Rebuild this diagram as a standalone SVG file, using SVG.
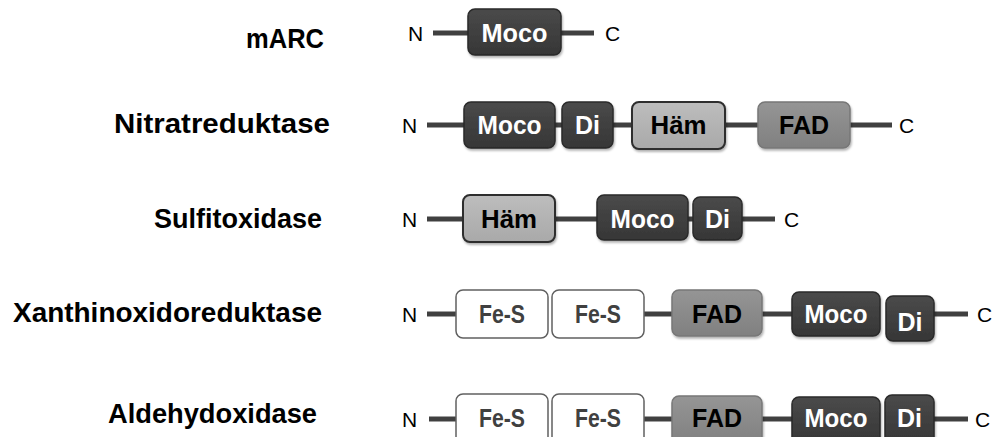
<svg xmlns="http://www.w3.org/2000/svg" width="1000" height="437" viewBox="0 0 1000 437">
<defs>
<linearGradient id="gDark" x1="0" y1="0" x2="0" y2="1">
<stop offset="0" stop-color="#4a4a4a"/><stop offset="1" stop-color="#363636"/>
</linearGradient>
<linearGradient id="gHam" x1="0" y1="0" x2="0" y2="1">
<stop offset="0" stop-color="#bdbdbd"/><stop offset="1" stop-color="#a9a9a9"/>
</linearGradient>
<linearGradient id="gFad" x1="0" y1="0" x2="0" y2="1">
<stop offset="0" stop-color="#959595"/><stop offset="1" stop-color="#808080"/>
</linearGradient>
<filter id="sh" x="-10%" y="-10%" width="130%" height="140%">
<feDropShadow dx="1" dy="2" stdDeviation="1.2" flood-color="#000" flood-opacity="0.3"/>
</filter>
</defs>
<style>
.lbl{font-family:"Liberation Sans",Arial,sans-serif;font-weight:bold;font-size:28px;fill:#000;text-anchor:end}
.nc{font-family:"Liberation Sans",Arial,sans-serif;font-size:21px;fill:#000}
.bt{font-family:"Liberation Sans",Arial,sans-serif;font-weight:bold;font-size:25px;text-anchor:middle}
.dark{fill:url(#gDark);stroke:#2a2a2a;stroke-width:1.5;filter:url(#sh)}
.ham{fill:url(#gHam);stroke:#2e2e2e;stroke-width:2;filter:url(#sh)}
.fad{fill:url(#gFad);stroke:#777;stroke-width:1.5;filter:url(#sh)}
.fes{fill:#fff;stroke:#606060;stroke-width:1.5}
.wt{fill:#fff}
.bk{fill:#000}
.gt{fill:#404040}
.ln{stroke:#404040;stroke-width:5;fill:none}
</style>

<g id="labels">
<text class="lbl" x="324" y="48" textLength="78" lengthAdjust="spacingAndGlyphs">mARC</text>
<text class="lbl" x="330" y="133" textLength="216" lengthAdjust="spacingAndGlyphs">Nitratreduktase</text>
<text class="lbl" x="322" y="228" textLength="168" lengthAdjust="spacingAndGlyphs">Sulfitoxidase</text>
<text class="lbl" x="322" y="322" textLength="309" lengthAdjust="spacingAndGlyphs">Xanthinoxidoreduktase</text>
<text class="lbl" x="317" y="423" textLength="209" lengthAdjust="spacingAndGlyphs">Aldehydoxidase</text>
</g>

<g id="connectors">
<line class="ln" x1="433" y1="33" x2="468" y2="33"/>
<line class="ln" x1="561" y1="33" x2="594" y2="33"/>

<line class="ln" x1="427" y1="125" x2="464" y2="125"/>
<line class="ln" x1="555" y1="125" x2="562" y2="125"/>
<line class="ln" x1="613" y1="125" x2="632" y2="125"/>
<line class="ln" x1="725" y1="125" x2="758" y2="125"/>
<line class="ln" x1="850" y1="125" x2="892" y2="125"/>

<line class="ln" x1="427" y1="219" x2="463" y2="219"/>
<line class="ln" x1="555" y1="219" x2="597" y2="219"/>
<line class="ln" x1="688" y1="219" x2="693" y2="219"/>
<line class="ln" x1="742" y1="219" x2="775" y2="219"/>

<line class="ln" x1="427" y1="314" x2="456" y2="314"/>
<line class="ln" x1="644" y1="314" x2="672" y2="314"/>
<line class="ln" x1="762" y1="314" x2="792" y2="314"/>
<line class="ln" x1="934" y1="314" x2="968" y2="314"/>

<line class="ln" x1="429" y1="419" x2="456" y2="419"/>
<line class="ln" x1="644" y1="419" x2="672" y2="419"/>
<line class="ln" x1="762" y1="419" x2="792" y2="419"/>
<line class="ln" x1="934" y1="419" x2="968" y2="419"/>
</g>

<g id="termini">
<text class="nc" x="408" y="41">N</text>
<text class="nc" x="605" y="41">C</text>
<text class="nc" x="402" y="133">N</text>
<text class="nc" x="899" y="133">C</text>
<text class="nc" x="402" y="227">N</text>
<text class="nc" x="784" y="227">C</text>
<text class="nc" x="402" y="322">N</text>
<text class="nc" x="977" y="322">C</text>
<text class="nc" x="402" y="427">N</text>
<text class="nc" x="975" y="427">C</text>
</g>

<g id="marc-moco">
<rect class="dark" x="468" y="9" width="93" height="46" rx="7"/>
<text class="bt wt" x="514.5" y="42" textLength="66" lengthAdjust="spacingAndGlyphs">Moco</text>
</g>

<g id="nr-moco">
<rect class="dark" x="464" y="102" width="91" height="46" rx="7"/>
<text class="bt wt" x="509.5" y="134" textLength="64" lengthAdjust="spacingAndGlyphs">Moco</text>
</g>
<g id="nr-di">
<rect class="dark" x="562" y="102" width="51" height="46" rx="7"/>
<text class="bt wt" x="587.5" y="134">Di</text>
</g>
<g id="nr-ham">
<rect class="ham" x="632" y="102" width="93" height="47" rx="7"/>
<text class="bt bk" x="678.5" y="134" textLength="56" lengthAdjust="spacingAndGlyphs">Häm</text>
</g>
<g id="nr-fad">
<rect class="fad" x="758" y="102" width="92" height="46" rx="7"/>
<text class="bt bk" x="804" y="134">FAD</text>
</g>

<g id="so-ham">
<rect class="ham" x="463" y="195" width="92" height="47" rx="7"/>
<text class="bt bk" x="509" y="228" textLength="56" lengthAdjust="spacingAndGlyphs">Häm</text>
</g>
<g id="so-moco">
<rect class="dark" x="597" y="195" width="91" height="45" rx="7"/>
<text class="bt wt" x="642.5" y="228" textLength="64" lengthAdjust="spacingAndGlyphs">Moco</text>
</g>
<g id="so-di">
<rect class="dark" x="693" y="197" width="49" height="43" rx="7"/>
<text class="bt wt" x="717.5" y="228">Di</text>
</g>

<g id="xor-fes1">
<rect class="fes" x="456" y="290" width="92" height="48" rx="7"/>
<text class="bt gt" x="502" y="323" textLength="46" lengthAdjust="spacingAndGlyphs">Fe-S</text>
</g>
<g id="xor-fes2">
<rect class="fes" x="552" y="290" width="92" height="48" rx="7"/>
<text class="bt gt" x="598" y="323" textLength="46" lengthAdjust="spacingAndGlyphs">Fe-S</text>
</g>
<g id="xor-fad">
<rect class="fad" x="672" y="290" width="90" height="46" rx="7"/>
<text class="bt bk" x="717" y="323">FAD</text>
</g>
<g id="xor-moco">
<rect class="dark" x="792" y="292" width="88" height="44" rx="7"/>
<text class="bt wt" x="836" y="323" textLength="63" lengthAdjust="spacingAndGlyphs">Moco</text>
</g>
<g id="xor-di">
<rect class="dark" x="886" y="296" width="48" height="45" rx="7"/>
<text class="bt wt" x="910" y="331">Di</text>
</g>

<g id="ao-fes1">
<rect class="fes" x="456" y="394" width="92" height="50" rx="7"/>
<text class="bt gt" x="502" y="427" textLength="46" lengthAdjust="spacingAndGlyphs">Fe-S</text>
</g>
<g id="ao-fes2">
<rect class="fes" x="552" y="394" width="92" height="50" rx="7"/>
<text class="bt gt" x="598" y="427" textLength="46" lengthAdjust="spacingAndGlyphs">Fe-S</text>
</g>
<g id="ao-fad">
<rect class="fad" x="672" y="396" width="90" height="48" rx="7"/>
<text class="bt bk" x="717" y="427">FAD</text>
</g>
<g id="ao-moco">
<rect class="dark" x="792" y="397" width="88" height="47" rx="7"/>
<text class="bt wt" x="836" y="427" textLength="63" lengthAdjust="spacingAndGlyphs">Moco</text>
</g>
<g id="ao-di">
<rect class="dark" x="885" y="395" width="49" height="49" rx="7"/>
<text class="bt wt" x="909.5" y="427">Di</text>
</g>
</svg>
